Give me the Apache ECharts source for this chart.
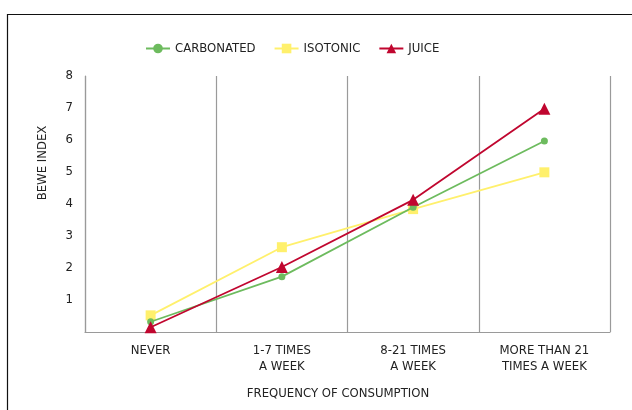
<!DOCTYPE html>
<html><head><meta charset="utf-8">
<script src="https://cdn.jsdelivr.net/npm/echarts@6/dist/echarts.min.js"></script>
<style>html,body{margin:0;padding:0;background:#fff}#c{width:632px;height:410px}</style>
</head><body><div id="c"></div>
<script>
var categories = ['NEVER', '1-7 TIMES\nA WEEK', '8-21 TIMES\nA WEEK', 'MORE THAN 21\nTIMES A WEEK'];
var carbonated = [0.32, 1.73, 3.9, 5.97];
var isotonic = [0.52, 2.65, 3.84, 4.99];
var juice = [0.15, 2.03, 4.13, 6.98];
var yTicks = [0, 8, 1];
var FONT = '"DejaVu Sans Condensed", "Liberation Sans Narrow", sans-serif';

var chart = echarts.init(document.getElementById('c'), null, {renderer: 'canvas'});
chart.setOption({
  animation: false,
  backgroundColor: '#fff',
  textStyle: {fontFamily: FONT},
  graphic: [
    {type: 'rect', z: -1, shape: {x: 7.5, y: 14.5, width: 700, height: 500}, style: {fill: 'none', stroke: '#111', lineWidth: 1.2}},
    {type: 'text', x: 43, y: 163, rotation: Math.PI / 2, style: {text: 'BEWE INDEX', font: '13px ' + FONT, fill: '#222', align: 'center', verticalAlign: 'middle'}},
    {type: 'text', x: 338, y: 394, style: {text: 'FREQUENCY OF CONSUMPTION', font: '13px ' + FONT, fill: '#222', align: 'center', verticalAlign: 'middle'}}
  ],
  legend: {
    left: 140, top: 37, itemGap: 18, itemWidth: 24, itemHeight: 12,
    textStyle: {fontFamily: FONT, fontSize: 13, color: '#222'},
    data: ['CARBONATED', 'ISOTONIC', 'JUICE']
  },
  grid: {left: 85, right: 22, top: 76, bottom: 78},
  xAxis: {
    type: 'category', data: categories, boundaryGap: true,
    axisLine: {lineStyle: {color: '#9a9a9a', width: 1.2}},
    axisTick: {show: false},
    splitLine: {show: true, lineStyle: {color: '#9a9a9a', width: 1.2}},
    axisLabel: {fontFamily: FONT, fontSize: 13, color: '#222', margin: 11, lineHeight: 16, interval: 0}
  },
  yAxis: {
    type: 'value', min: yTicks[0], max: yTicks[1], interval: yTicks[2],
    axisLine: {show: true, lineStyle: {color: '#9a9a9a', width: 1.2}},
    axisTick: {show: false},
    splitLine: {show: false},
    axisLabel: {fontFamily: FONT, fontSize: 13, color: '#222', margin: 12,
      formatter: function (v) { return v === 0 ? '' : v; }}
  },
  series: [
    {name: 'CARBONATED', type: 'line', data: carbonated, symbol: 'circle', symbolSize: 7,
      itemStyle: {color: '#6dbb5e'}, lineStyle: {color: '#6dbb5e', width: 1.8}, z: 3},
    {name: 'ISOTONIC', type: 'line', data: isotonic, symbol: 'rect', symbolSize: 10,
      itemStyle: {color: '#fff06c'}, lineStyle: {color: '#fff06c', width: 1.8}, z: 2},
    {name: 'JUICE', type: 'line', data: juice, symbol: 'triangle', symbolSize: 12,
      itemStyle: {color: '#c0062f'}, lineStyle: {color: '#c0062f', width: 1.8}, z: 4}
  ]
});
</script></body></html>
